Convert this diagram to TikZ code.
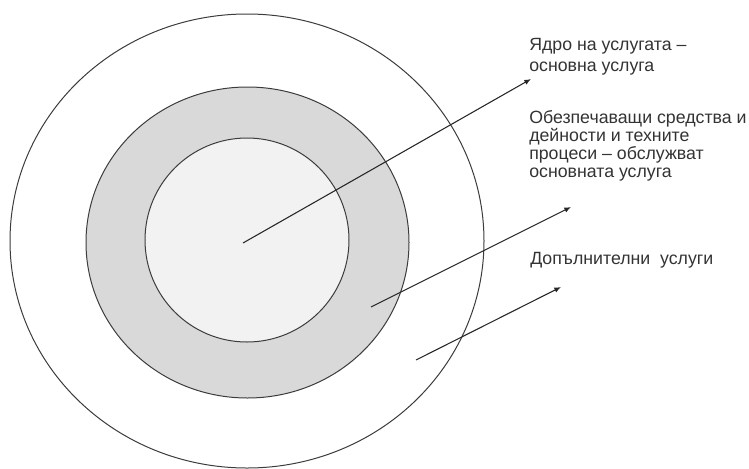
\documentclass[tikz,border=0pt]{standalone}
\usepackage{fontspec}
\setmainfont{Liberation Sans}
\usetikzlibrary{arrows.meta,positioning}
\definecolor{ringgray}{RGB}{217,217,217}
\definecolor{coregray}{RGB}{242,242,242}
\definecolor{edgegray}{RGB}{60,60,60}

\begin{document}
\begin{tikzpicture}[x=0.75pt,y=-0.75pt,
  ring/.style={draw=edgegray,line width=0.75pt},
  pointer/.style={draw=black!85,line width=0.8pt,-{Latex[length=5pt,width=4pt]}},
  label/.style={anchor=north west,inner sep=0pt,align=left,
    font=\fontsize{13.3}{13.5}\selectfont,text=black!80}]
  \useasboundingbox (0,0) rectangle (749,468);
  % the three rings
  \draw[ring] (247,241) ellipse [x radius=237,y radius=227];
  \draw[ring,fill=ringgray] (247.5,242.5) ellipse [x radius=161.5,y radius=155.5];
  \draw[ring,fill=coregray] (247,240) ellipse [x radius=102,y radius=102];
  % texts
  \node[label,font=\fontsize{13.3}{16}\selectfont] (core) at (529,38)
    {Ядро на услугата –\\основна услуга};
  \node[label] (support) at (529,110)
    {Обезпечаващи средства и\\дейности и техните\\процеси – обслужват\\основната услуга};
  \node[label] (extra) at (530,252)
    {Допълнителни\ \ услуги};
  % pointers
  \coordinate (core-from) at (243,243);
  \coordinate (core-to) at (531,79);
  \coordinate (support-from) at (371,307);
  \coordinate (support-to) at (571,207);
  \coordinate (extra-from) at (416,360);
  \coordinate (extra-to) at (561,287);
  \draw[pointer] (core-from) -- (core-to);
  \draw[pointer] (support-from) -- (support-to);
  \draw[pointer] (extra-from) -- (extra-to);
\end{tikzpicture}
\end{document}
